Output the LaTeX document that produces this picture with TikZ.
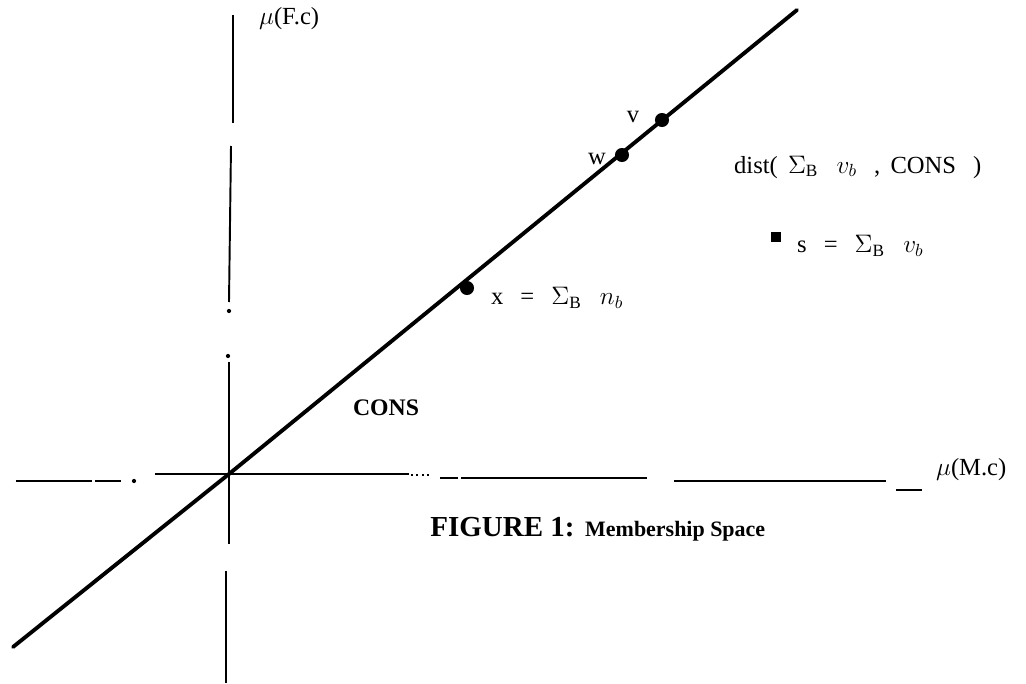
\documentclass[tikz,border=0pt]{standalone}
\usepackage{fontspec}
\setmainfont{Liberation Serif}
\usetikzlibrary{positioning}

\tikzset{
  axis/.style={line width=1.1pt},
  consline/.style={line width=2.2pt, line cap=round},
  dot/.style={circle, fill=black, inner sep=0pt, minimum size=8pt},
  ptlabel/.style={font=\fontsize{14}{16}\selectfont, inner sep=1pt},
}

\begin{document}
\begin{tikzpicture}

\useasboundingbox (-4.58,-4.2) rectangle (15.94,9.48);

\coordinate (O) at (0, 0);

% vertical axis (broken as in the print)
\draw[axis] (0.08,9.18) -- (0.08,7.02);
\draw[axis] (0.04,6.56) -- (0,3.44);
\fill (0,3.26) circle (1.2pt);
\fill (-0.02,2.36) circle (1.2pt);
\draw[axis] (0,2.24) -- (0,-1.4);
\draw[axis] (-0.06,-1.94) -- (-0.06,-4.18);

% horizontal axis
\draw[axis] (-4.26,-0.14) -- (-2.74,-0.14);
\draw[axis] (-2.68,-0.14) -- (-2.16,-0.14);
\fill (-1.9,-0.14) circle (1.2pt);
\draw[axis] (-1.48,0) -- (3.6,0);
\draw[axis, dotted] (3.64,-0.02) -- (4.06,-0.02);
\draw[axis] (4.22,-0.08) -- (4.58,-0.08);
\draw[axis] (4.64,-0.08) -- (8.36,-0.08);
\draw[axis] (8.9,-0.14) -- (13.14,-0.14);
\draw[axis] (13.34,-0.32) -- (13.86,-0.32);

% the CONS line
\coordinate (lo) at (-4.32,-3.46);
\coordinate (hi) at (11.36,9.28);
\draw[consline] (lo) -- (O) -- (hi);

\node[dot] (v) at (8.66,7.08) {};
\node[dot] (w) at (7.86,6.38) {};
\node[dot] (x) at (4.76,3.72) {};
\node[rectangle, fill=black, inner sep=0pt, minimum size=6pt] (s) at (10.94,4.74) {};

\node[ptlabel] (vlab) at (8.08,7.14) {v};
\node[ptlabel] (wlab) at (7.36,6.3) {w};
\node[ptlabel, anchor=west] (xlab) at (5.2,3.52) {x\;\, =\;\, $\Sigma_{\rm B}\;\;\, n_b$};
\node[ptlabel, anchor=west] (slab) at (11.32,4.56) {s\;\, =\;\, $\Sigma_{\rm B}\;\;\, v_b$};
\node[ptlabel, anchor=west] (dist) at (10.06,6.14) {dist(\, $\Sigma_{\rm B}\;\;\, v_b$\;\, ,\, CONS\;\, )};

\node[font=\bfseries\fontsize{13.5}{16}\selectfont] (cons) at (3.14,1.32) {CONS};

\node[ptlabel, anchor=west] (yaxis) at (0.56,9.1) {$\mu$(F.c)};
\node[ptlabel, anchor=west] (xaxis) at (14.1,0.08) {$\mu$(M.c)};

\node[anchor=west, inner sep=0pt, font=\bfseries\fontsize{16.5}{19}\selectfont] (fig) at (4.02,-1.06) {FIGURE 1:};
\node[anchor=base west, inner sep=0pt, font=\bfseries\fontsize{12.5}{15}\selectfont] (cap) at ([xshift=0.2cm]fig.base east) {Membership Space};

\end{tikzpicture}
\end{document}
